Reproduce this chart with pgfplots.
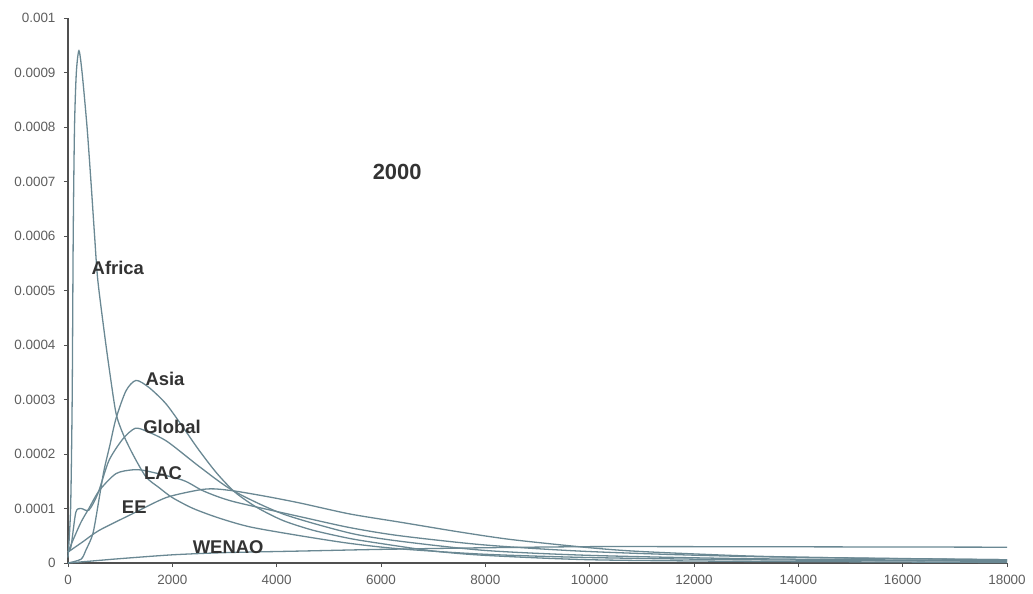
\documentclass[border=0pt]{standalone}
\usepackage{pgfplots}
\pgfplotsset{compat=1.18}
\usepackage{fontspec}
\setmainfont{Liberation Sans}
\definecolor{curve}{HTML}{6A8893}
\definecolor{axisc}{HTML}{505050}
\definecolor{tickc}{HTML}{5E5E5E}
\definecolor{labc}{HTML}{333333}
\pgfplotsset{mycurve/.style={curve, line width=1.3bp, smooth, tension=0.45, mark=none}}
\begin{document}
\begin{tikzpicture}
\begin{axis}[
  scale only axis,
  width=939bp, height=545bp,
  xmin=0, xmax=18000, ymin=0, ymax=0.001,
  axis lines=left,
  axis line style={axisc, line width=1.2bp, -},
  scaled x ticks=false, scaled y ticks=false,
  xtick={0,2000,...,18000},
  xticklabels={0,2000,4000,6000,8000,10000,12000,14000,16000,18000},
  ytick={0,0.0001,0.0002,0.0003,0.0004,0.0005,0.0006,0.0007,0.0008,0.0009,0.001},
  yticklabels={0,0.0001,0.0002,0.0003,0.0004,0.0005,0.0006,0.0007,0.0008,0.0009,0.001},
  tick style={axisc, line width=0.8bp},
  tick align=outside,
  major tick length=4bp,
  ticklabel style={font=\fontsize{13.5}{14}\selectfont, text=tickc},
  every x tick label/.append style={yshift=-5bp},
  every y tick label/.append style={xshift=-5bp},
  clip=false,
]
% Africa
\addplot[mycurve] coordinates {(0,0.00001) (50,0.0001) (80,0.0003) (100,0.0006) (125,0.0008) (160,0.0009) (210,0.00094) (270,0.0009) (365,0.0008) (440,0.0007) (510,0.0006) (570,0.00052) (700,0.00042) (800,0.00035) (920,0.000275) (1050,0.000238) (1240,0.0002) (1495,0.000158) (1750,0.000138) (2000,0.00012) (2400,0.0001) (2910,0.000082) (3500,0.000066) (4450,0.00005) (5400,0.000036) (6360,0.000026) (8000,0.000016) (10000,0.00001) (13000,0.000006) (18000,0.000003)};
% Asia
\addplot[mycurve] coordinates {(0,0) (250,0.000007) (345,0.000024) (480,0.000055) (600,0.00012) (690,0.00017) (800,0.000215) (920,0.000265) (1112,0.000316) (1304,0.000335) (1553,0.000322) (1879,0.000292) (2205,0.000249) (2511,0.000207) (2850,0.000165) (3200,0.00013) (3620,0.000102) (4120,0.000078) (4700,0.00006) (5400,0.000045) (5980,0.000036) (7000,0.000022) (8000,0.000014) (10000,0.000006) (13000,0.000003) (18000,0.000001)};
% Global
\addplot[mycurve] coordinates {(0,0.00002) (58,0.00003) (150,0.000093) (250,0.0001) (400,0.000097) (575,0.000128) (785,0.000188) (1055,0.000228) (1285,0.000247) (1500,0.000242) (1900,0.000223) (2530,0.000176) (3160,0.000133) (4120,0.00009) (5400,0.000055) (6360,0.00004) (8000,0.000023) (10000,0.000014) (13000,0.000008) (18000,0.000004)};
% LAC
\addplot[mycurve] coordinates {(0,0.00002) (96,0.000042) (250,0.000075) (400,0.0001) (600,0.000133) (920,0.000164) (1245,0.000171) (1500,0.000169) (2200,0.000152) (2600,0.000132) (3160,0.000113) (4450,0.000085) (5400,0.000065) (6360,0.00005) (8000,0.000033) (10000,0.000021) (13000,0.000012) (18000,0.000006)};
% EE
\addplot[mycurve] coordinates {(0,0.00002) (300,0.00004) (600,0.00006) (1250,0.000091) (1880,0.00012) (2510,0.000134) (2800,0.000136) (3200,0.000132) (3810,0.000122) (4450,0.00011) (5400,0.00009) (6360,0.000075) (7500,0.000057) (8500,0.000043) (10000,0.000028) (11000,0.000021) (13000,0.000013) (15000,0.000009) (18000,0.000006)};
% WENAO
\addplot[mycurve] coordinates {(0,0) (500,0.000004) (1000,0.000008) (2000,0.000015) (3000,0.000019) (4500,0.000022) (6000,0.000025) (8000,0.000028) (10000,0.00003) (12000,0.00003) (18000,0.000029)};
\begin{scope}[every node/.style={font=\bfseries\fontsize{18.5}{20}\selectfont, text=labc}]
\node at (axis cs:955,0.000541) {Africa};
\node at (axis cs:1860,0.000338) {Asia};
\node at (axis cs:1995,0.00025) {Global};
\node at (axis cs:1820,0.000165) {LAC};
\node at (axis cs:1270,0.000102) {EE};
\node at (axis cs:3070,0.000029) {WENAO};
\end{scope}
\node[font=\bfseries\fontsize{22}{24}\selectfont, text=labc] at (axis cs:6310,0.000717) {2000};
\end{axis}
\pgfresetboundingbox
\path (current axis.south west) ++(-68bp,-31bp) coordinate (bl);
\path (current axis.north east) ++(26bp,18bp) coordinate (tr);
\path[use as bounding box] (bl) rectangle (tr);
\end{tikzpicture}
\end{document}
